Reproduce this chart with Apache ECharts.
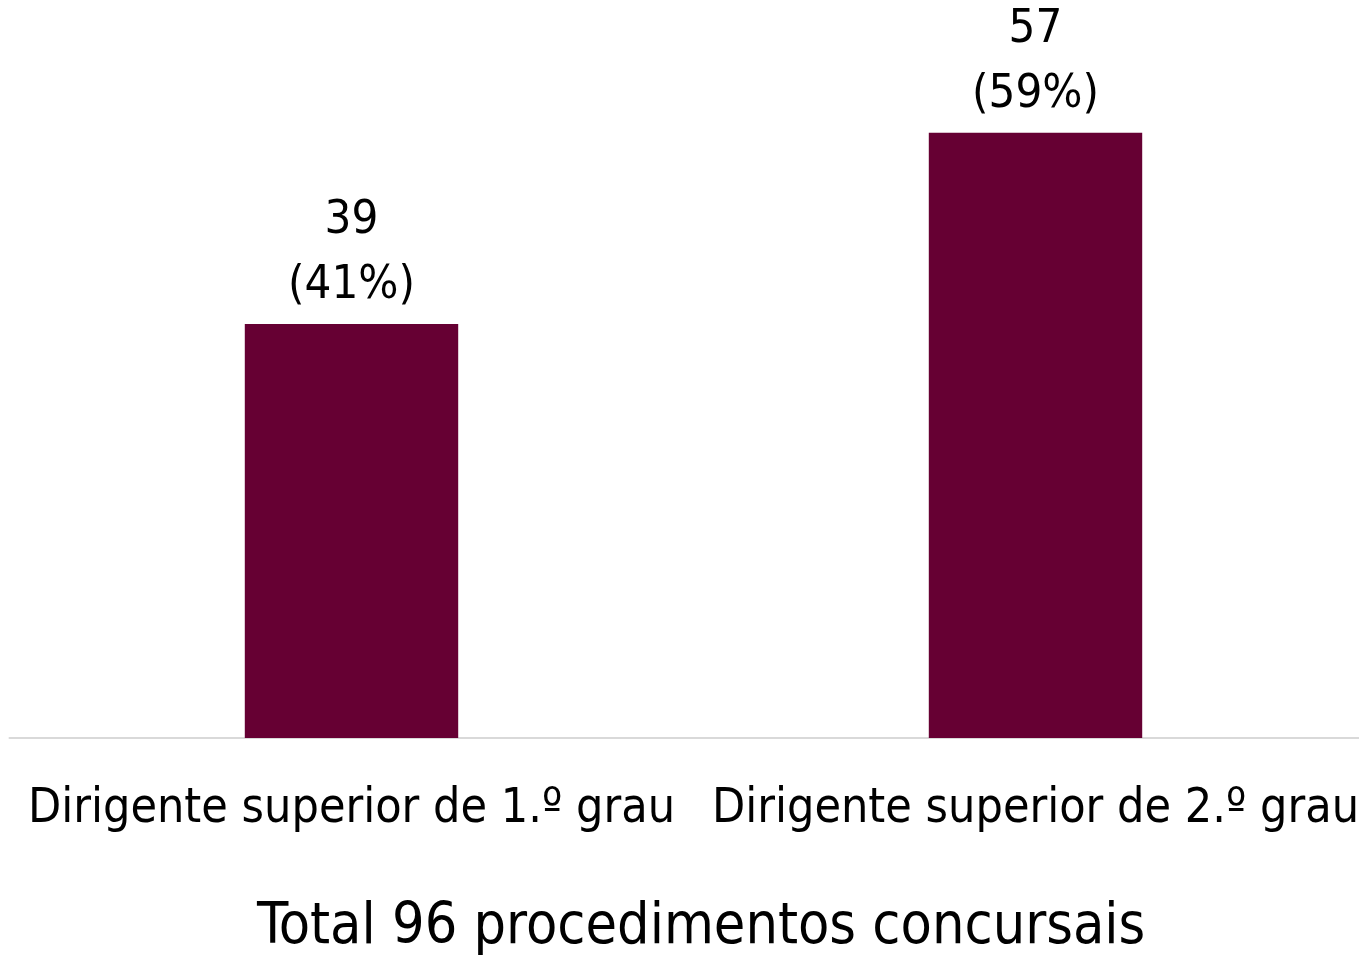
<!DOCTYPE html>
<html>
<head>
<meta charset="utf-8">
<script src="https://cdn.jsdelivr.net/npm/echarts@6/dist/echarts.min.js"></script>
<style>html,body{margin:0;padding:0;background:#fff}#c{width:1359px;height:960px}</style>
</head>
<body>
<div id="c"></div>
<script>
var categories = ['Dirigente superior de 1.º grau', 'Dirigente superior de 2.º grau'];
var values = [39, 57];
var percents = ['41%', '59%'];
var titleText = 'Total 96 procedimentos concursais';

var FONT = "'DejaVu Sans Condensed', 'DejaVu Sans', sans-serif";
var chart = echarts.init(document.getElementById('c'));
chart.setOption({
  animation: false,
  title: {
    text: titleText,
    left: 252,
    top: 895,
    textStyle: { fontFamily: FONT, fontSize: 57, fontWeight: 'normal', color: '#000' }
  },
  grid: { left: 9.5, right: -18.5, top: 101, bottom: 222, containLabel: false, outerBoundsMode: 'none' },
  xAxis: {
    type: 'category',
    data: categories,
    axisLine: { lineStyle: { color: '#d9d9d9', width: 2 } },
    axisTick: { show: false },
    axisLabel: { fontFamily: FONT, fontSize: 48, color: '#000', margin: 48, interval: 0, hideOverlap: false }
  },
  yAxis: { type: 'value', min: 0, max: 60, show: false, splitLine: { show: false } },
  series: [{
    type: 'bar',
    data: values,
    barWidth: '31.2%',
    itemStyle: { color: '#660033' },
    label: {
      show: true,
      position: 'top',
      distance: 6,
      fontFamily: FONT,
      fontSize: 47,
      lineHeight: 65,
      color: '#000',
      formatter: function (p) { return p.value + '\n(' + percents[p.dataIndex] + ')'; }
    }
  }]
});
</script>
</body>
</html>
